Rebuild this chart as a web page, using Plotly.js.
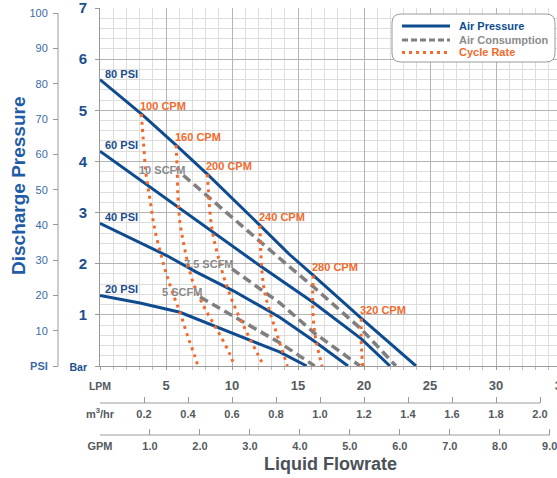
<!DOCTYPE html>
<html><head><meta charset="utf-8">
<script src="https://cdn.plot.ly/plotly-3.0.1.min.js"></script>
<style>html,body{margin:0;padding:0;overflow:hidden;background:#fff}#chart{width:562px;height:478px}</style>
</head><body><div id="chart"></div>
<script>
// ---------------- data ----------------
const lpmTickVals = [0, 5, 10, 15, 20, 25, 30, 35];
const lpmTickText = ['LPM', '5', '10', '15', '20', '25', '30', '35'];
const m3TickVals = [0, 0.2, 0.4, 0.6, 0.8, 1.0, 1.2, 1.4, 1.6, 1.8, 2.0];
const m3TickText = ['m<sup>3</sup>/hr', '0.2', '0.4', '0.6', '0.8', '1.0', '1.2', '1.4', '1.6', '1.8', '2.0'];
const gpmTickVals = [0, 1, 2, 3, 4, 5, 6, 7, 8, 9];
const gpmTickText = ['GPM', '1.0', '2.0', '3.0', '4.0', '5.0', '6.0', '7.0', '8.0', '9.0'];
const barTickVals = [0, 1, 2, 3, 4, 5, 6, 7];
const barTickText = ['Bar', '1', '2', '3', '4', '5', '6', '7'];
const psiTickVals = [0, 10, 20, 30, 40, 50, 60, 70, 80, 90, 100];
const psiTickText = ['PSI', '10', '20', '30', '40', '50', '60', '70', '80', '90', '100'];

// Air pressure curves (LPM, bar)
const p80X = [0, 3.13, 5.76, 8.13, 12.12, 14.4, 16.16, 19.8, 23.94];
const p80Y = [5.6, 4.93, 4.32, 3.75, 2.75, 2.17, 1.77, 0.93, 0];
const p60X = [0, 4.04, 8.08, 12.12, 16.16, 19.8, 21.97];
const p60Y = [4.2, 3.45, 2.7, 1.96, 1.24, 0.53, 0];
const p40X = [0, 5.05, 7.27, 10.1, 13.64, 16.16, 18.79];
const p40Y = [2.79, 2.16, 1.84, 1.47, 0.95, 0.5, 0];
const p20X = [0, 3.03, 6.06, 8.84, 11.36, 13.64, 15.66];
const p20Y = [1.38, 1.23, 1.05, 0.76, 0.5, 0.27, 0];
const pressureLabels = ['80 PSI', '60 PSI', '40 PSI', '20 PSI'];

// Air consumption curves
const c10X = [6.31, 9.09, 11.87, 14.4, 16.16, 19.8, 22.42];
const c10Y = [3.73, 3.1, 2.49, 1.93, 1.55, 0.72, 0];
const c75X = [10.0, 13.64, 16.26, 19.7];
const c75Y = [1.9, 1.23, 0.64, 0];
const c5X = [7.58, 10.35, 13.64, 16.26];
const c5Y = [1.35, 0.93, 0.45, 0];
const consumptionLabels = ['10 SCFM', '7.5 SCFM', '5 SCFM'];

// Cycle rate curves
const r100X = [3.13, 3.28, 3.48, 3.79, 4.14, 4.65, 5.05, 5.66, 6.06, 6.62, 7.17, 7.42];
const r100Y = [4.93, 4.42, 3.77, 3.25, 2.68, 2.15, 1.78, 1.32, 1.05, 0.6, 0.2, 0];
const r160X = [5.76, 5.84, 5.91, 6.06, 6.31, 6.62, 7.07, 7.83, 8.48, 9.19, 9.8, 10.2];
const r160Y = [4.32, 3.9, 3.3, 2.8, 2.43, 2.05, 1.62, 1.18, 0.88, 0.56, 0.25, 0];
const r200X = [8.13, 8.21, 8.33, 8.53, 8.94, 9.49, 10.3, 11.11, 11.87, 12.42];
const r200Y = [3.75, 3.44, 3.0, 2.6, 2.15, 1.65, 1.1, 0.66, 0.27, 0];
const r240X = [12.12, 12.17, 12.27, 12.47, 12.88, 13.43, 14.19];
const r240Y = [2.75, 2.3, 1.85, 1.45, 1.05, 0.6, 0];
const r280X = [16.16, 16.11, 16.21, 16.41, 16.82];
const r280Y = [1.77, 1.28, 0.76, 0.44, 0];
const r320X = [19.8, 19.78, 19.83, 19.9];
const r320Y = [0.93, 0.56, 0.25, 0];
const cycleLabels = ['100 CPM', '160 CPM', '200 CPM', '240 CPM', '280 CPM', '320 CPM'];

const legendNames = ['Air Pressure', 'Air Consumption', 'Cycle Rate'];

// ---------------- styling ----------------
const FONT = 'Liberation Sans, Arial, Helvetica, sans-serif';
const BLUE = '#0f4c8f';
const GREY = '#7f7f7f';
const ORANGE = '#f26a2d';
const W = 562, H = 478, MT = 8;
const PH = H - MT;
const PLOT_LEFT = 100, PLOT_BOTTOM = 366;
const X = px => px / W;
const Y = py => (H - py) / PH;
const LPM_MAX = 35;
const M3_PER_LPM = 0.06;
const GPM_PER_LPM = 1 / 3.78541;
const PSI_PER_BAR = 14.5038;

const pressureSeries = [[p80X, p80Y], [p60X, p60Y], [p40X, p40Y], [p20X, p20Y]];
const consumptionSeries = [[c10X, c10Y], [c75X, c75Y], [c5X, c5Y]];
const cycleSeries = [[r100X, r100Y], [r160X, r160Y], [r200X, r200Y], [r240X, r240Y], [r280X, r280Y], [r320X, r320Y]];

const traces = [];
pressureSeries.forEach(([x, y]) => traces.push({x, y, type: 'scatter', mode: 'lines', hoverinfo: 'skip', showlegend: false,
  line: {color: BLUE, width: 3}}));
consumptionSeries.forEach(([x, y]) => traces.push({x, y, type: 'scatter', mode: 'lines', hoverinfo: 'skip', showlegend: false,
  line: {color: GREY, width: 3.5, dash: '9px,5px'}}));
cycleSeries.forEach(([x, y]) => traces.push({x, y, type: 'scatter', mode: 'lines', hoverinfo: 'skip', showlegend: false,
  line: {color: ORANGE, width: 3, dash: '3px,4.5px', shape: 'spline', smoothing: 1}}));

const annotations = [];
const lblFont = c => ({family: FONT, size: 11, color: c, weight: 'bold'});
pressureSeries.forEach(([x, y], i) => annotations.push({xref: 'x', yref: 'y', x: x[0], y: y[0], text: pressureLabels[i],
  showarrow: false, xanchor: 'left', yanchor: 'middle', xshift: 3, yshift: 6, font: lblFont('#1c4e8c')}));
cycleSeries.forEach(([x, y], i) => annotations.push({xref: 'x', yref: 'y', x: x[0], y: y[0], text: cycleLabels[i],
  showarrow: false, xanchor: 'left', yanchor: 'middle', xshift: -3, yshift: 8, font: lblFont(ORANGE)}));
consumptionSeries.forEach(([x, y], i) => annotations.push({xref: 'x', yref: 'y', x: x[0], y: y[0], text: consumptionLabels[i],
  showarrow: false, xanchor: 'right', yanchor: 'middle', xshift: 4, yshift: 5, font: lblFont('#8a8a8a')}));

// titles
annotations.push({xref: 'paper', yref: 'paper', x: X(18), y: Y(186), text: 'Discharge Pressure', textangle: -90,
  xanchor: 'center', yanchor: 'middle',
  showarrow: false, font: {family: FONT, size: 19, color: '#1f5ba6', weight: 'bold'}});
annotations.push({xref: 'paper', yref: 'paper', x: X(330), y: Y(464), text: 'Liquid Flowrate',
  xanchor: 'center', yanchor: 'middle',
  showarrow: false, font: {family: FONT, size: 18, color: '#4b5158', weight: 'bold'}});

// legend (drawn box)
const legendColors = [BLUE, '#8c8c8c', ORANGE];
const legendRows = [25.5, 40, 52];
legendNames.forEach((n, i) => annotations.push({xref: 'paper', yref: 'paper', x: X(457), y: Y(legendRows[i]), text: n,
  showarrow: false, xanchor: 'left', yanchor: 'middle', font: {family: FONT, size: 11, color: legendColors[i], weight: 'bold'}}));

function rr(x0, y0, x1, y1, r) {
  const a = (px, py) => X(px) + ',' + Y(py);
  return 'M' + a(x0 + r, y0) + ' L' + a(x1 - r, y0) + ' Q' + a(x1, y0) + ' ' + a(x1, y0 + r) +
    ' L' + a(x1, y1 - r) + ' Q' + a(x1, y1) + ' ' + a(x1 - r, y1) +
    ' L' + a(x0 + r, y1) + ' Q' + a(x0, y1) + ' ' + a(x0, y1 - r) +
    ' L' + a(x0, y0 + r) + ' Q' + a(x0, y0) + ' ' + a(x0 + r, y0) + ' Z';
}
const shapes = [
  {type: 'path', xref: 'paper', yref: 'paper', path: rr(392, 14, 555, 62, 9), fillcolor: '#ffffff', line: {color: '#9a9a9a', width: 1}, layer: 'above'},
  {type: 'line', xref: 'paper', yref: 'paper', x0: X(402), x1: X(450), y0: Y(legendRows[0] + 0.5), y1: Y(legendRows[0] + 0.5), line: {color: BLUE, width: 3}},
  {type: 'line', xref: 'paper', yref: 'paper', x0: X(402), x1: X(450), y0: Y(legendRows[1]), y1: Y(legendRows[1]), line: {color: GREY, width: 3, dash: '6px,3px'}},
  {type: 'line', xref: 'paper', yref: 'paper', x0: X(402), x1: X(450), y0: Y(legendRows[2] + 0.5), y1: Y(legendRows[2] + 0.5), line: {color: ORANGE, width: 3, dash: '3px,4px'}},
  // secondary scale axis lines
  {type: 'line', xref: 'x2', yref: 'paper', x0: m3TickVals[0], x1: m3TickVals[m3TickVals.length - 1], y0: Y(403), y1: Y(403), line: {color: '#9a9a9a', width: 1}},
  {type: 'line', xref: 'x3', yref: 'paper', x0: gpmTickVals[0], x1: gpmTickVals[gpmTickVals.length - 1], y0: Y(435), y1: Y(435), line: {color: '#9a9a9a', width: 1}},
  {type: 'line', xref: 'paper', yref: 'y2', x0: X(58), x1: X(58), y0: psiTickVals[0], y1: psiTickVals[psiTickVals.length - 1], line: {color: '#9a9a9a', width: 1}}
];

const small = t => '<span style="font-size:10.5px">' + t + '</span>';
const tickGrey = '#545a60';
const layout = {
  width: W, height: H,
  margin: {l: 0, r: 0, t: MT, b: 0},
  paper_bgcolor: '#ffffff', plot_bgcolor: '#ffffff',
  showlegend: false,
  font: {family: FONT},
  xaxis: {
    domain: [X(PLOT_LEFT), 1],
    range: [0, LPM_MAX], tickmode: 'array', tickvals: lpmTickVals, ticktext: lpmTickText.map((t, i) => i === 0 ? small(t) : t),
    tickfont: {family: FONT, size: 13, color: tickGrey, weight: 'bold'}, ticklabeloverflow: 'allow',
    showgrid: true, gridcolor: '#b4b4b4', gridwidth: 1,
    minor: {tickmode: 'linear', tick0: 0, dtick: 1, showgrid: true, gridcolor: '#dddddd', gridwidth: 1, ticks: 'outside', ticklen: 3, tickcolor: '#bbbbbb'},
    ticks: 'outside', ticklen: 3, tickcolor: '#9a9a9a', ticklabelstandoff: 4,
    showline: true, linecolor: '#9a9a9a', linewidth: 1, zeroline: false, fixedrange: true
  },
  xaxis2: {
    overlaying: 'x', anchor: 'free', position: Y(403), side: 'bottom', range: [0, LPM_MAX * M3_PER_LPM],
    tickmode: 'array', tickvals: m3TickVals, ticktext: m3TickText,
    tickfont: {family: FONT, size: 11, color: tickGrey, weight: 'bold'},
    ticks: 'inside', ticklen: 6, tickcolor: '#9a9a9a', ticklabelstandoff: 3,
    showgrid: false, showline: false, zeroline: false, fixedrange: true
  },
  xaxis3: {
    overlaying: 'x', anchor: 'free', position: Y(435), side: 'bottom', range: [0, LPM_MAX * GPM_PER_LPM],
    tickmode: 'array', tickvals: gpmTickVals, ticktext: gpmTickText,
    tickfont: {family: FONT, size: 11, color: tickGrey, weight: 'bold'},
    ticks: 'inside', ticklen: 6, tickcolor: '#9a9a9a', ticklabelstandoff: 3,
    showgrid: false, showline: false, zeroline: false, fixedrange: true
  },
  yaxis: {
    domain: [Y(PLOT_BOTTOM), 1], range: [0, 7], tickmode: 'array', tickvals: barTickVals,
    ticktext: barTickText.map((t, i) => i === 0 ? small(t) : t),
    tickfont: {family: FONT, size: 15, color: '#1c4e8c', weight: 'bold'}, ticklabeloverflow: 'allow',
    showgrid: true, gridcolor: '#b4b4b4', gridwidth: 1,
    minor: {tickmode: 'linear', tick0: 0, dtick: 0.2, showgrid: true, gridcolor: '#dddddd', gridwidth: 1},
    ticks: 'outside', ticklen: 4, tickcolor: '#9a9a9a', ticklabelstandoff: 5,
    showline: true, linecolor: '#9a9a9a', linewidth: 1, zeroline: false, fixedrange: true
  },
  yaxis2: {
    overlaying: 'y', anchor: 'free', position: X(58), side: 'left', range: [0, 7 * PSI_PER_BAR],
    tickmode: 'array', tickvals: psiTickVals, ticktext: psiTickText.map((t, i) => i === 0 ? '<b>' + t + '</b>' : t),
    tickfont: {family: FONT, size: 11, color: '#3b6ba7'}, ticklabeloverflow: 'allow',
    ticks: 'outside', ticklen: 5, tickcolor: '#9a9a9a', ticklabelstandoff: 3,
    showgrid: false, showline: false, zeroline: false, fixedrange: true
  },
  annotations, shapes
};
Plotly.newPlot('chart', traces, layout, {staticPlot: true, displayModeBar: false});
</script></body></html>
